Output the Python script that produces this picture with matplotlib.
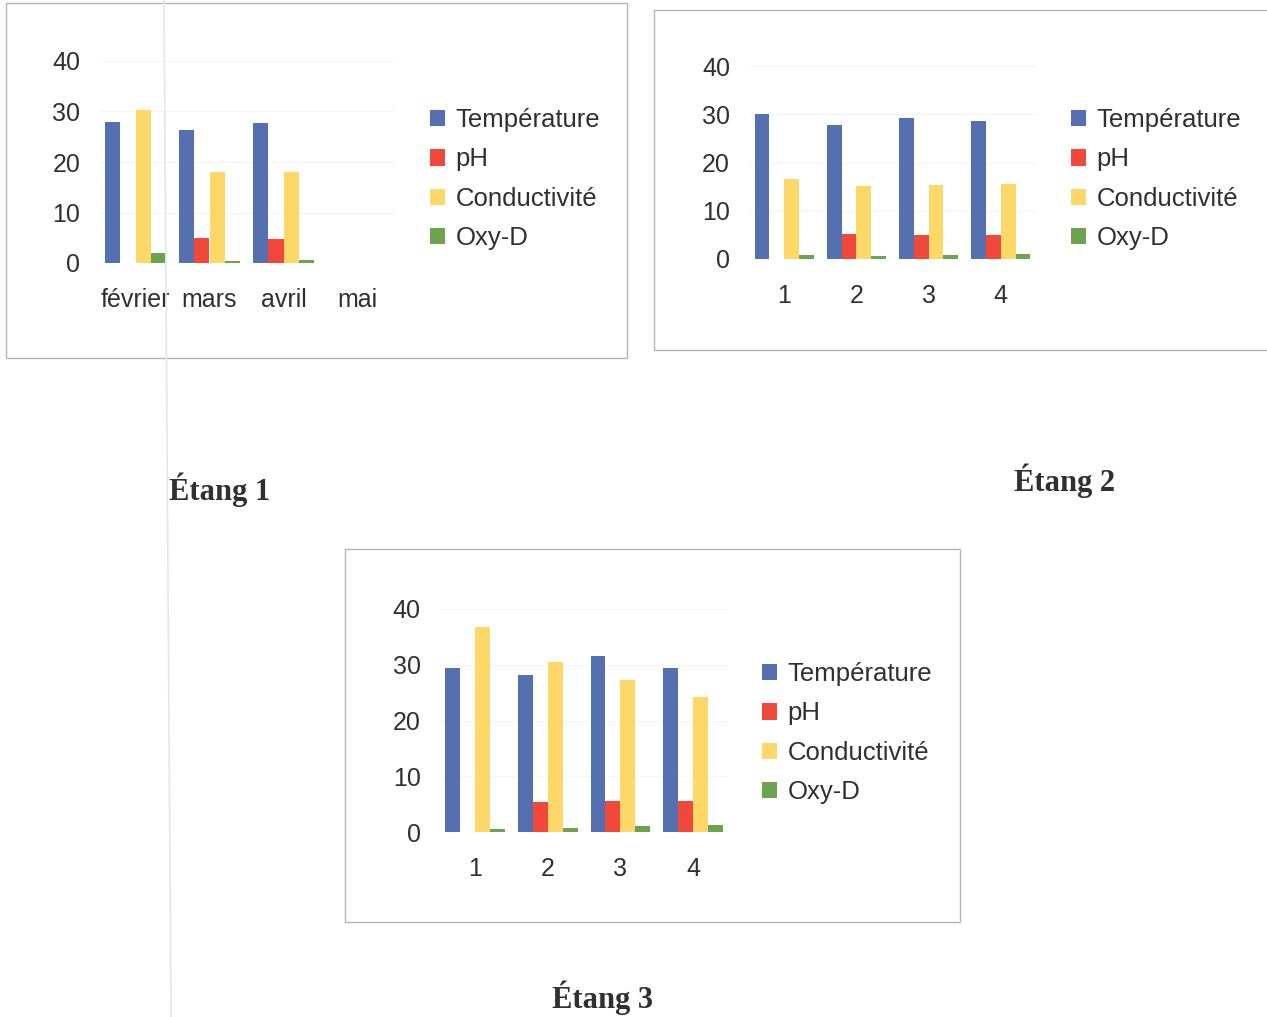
import numpy as np
import matplotlib
matplotlib.use('Agg')
import matplotlib.pyplot as plt
from matplotlib.patches import Rectangle
from matplotlib.lines import Line2D

# Measurements per pond (nan = no value recorded)
series = ['Température', 'pH', 'Conductivité', 'Oxy-D']
colors = ['#5470B0', '#F2483C', '#FDD868', '#6BA34E']

months_1 = ['février', 'mars', 'avril', 'mai']
temp_1 = [28.0, 26.3, 27.8, np.nan]
ph_1 = [np.nan, 5.0, 4.8, np.nan]
cond_1 = [30.3, 18.1, 18.0, np.nan]
oxy_1 = [1.9, 0.4, 0.6, np.nan]

samples_2 = ['1', '2', '3', '4']
temp_2 = [30.1, 27.7, 29.3, 28.5]
ph_2 = [np.nan, 5.1, 4.9, 5.0]
cond_2 = [16.5, 15.2, 15.3, 15.5]
oxy_2 = [0.8, 0.7, 0.8, 1.0]

samples_3 = ['1', '2', '3', '4']
temp_3 = [29.5, 28.1, 31.5, 29.4]
ph_3 = [np.nan, 5.3, 5.5, 5.5]
cond_3 = [36.8, 30.5, 27.3, 24.2]
oxy_3 = [0.5, 0.8, 1.0, 1.2]

W, H = 1267, 1017
fig = plt.figure(figsize=(W / 100, H / 100), dpi=100)
fig.patch.set_facecolor('white')

TXT = '#303030'
plt.rcParams['font.family'] = ['Liberation Sans', 'DejaVu Sans']


def fx(x):
    return x / W


def fy(y):
    return 1 - y / H


def frame(x0, y0, x1, y1):
    fig.patches.append(Rectangle((fx(x0), fy(y1)), fx(x1 - x0), (y1 - y0) / H,
                                 transform=fig.transFigure, fill=False,
                                 edgecolor='#b5b5b5', lw=1.0))


def chart(ax_box, labels, values, legend_xy):
    left, top, right, bottom = ax_box
    ax = fig.add_axes([fx(left), fy(bottom), fx(right - left), (bottom - top) / H])
    x = np.arange(len(labels))
    width = 0.205
    offsets = [-1.5, -0.5, 0.5, 1.5]
    for vals, col, name, off in zip(values, colors, series, offsets):
        ax.bar(x + off * width, vals, width, color=col, label=name, linewidth=0)
    ax.set_xlim(-0.5, len(labels) - 0.5)
    ax.set_ylim(0, 40)
    ax.set_yticks([0, 10, 20, 30, 40])
    ax.set_xticks(x)
    ax.set_xticklabels(labels)
    ax.tick_params(axis='both', length=0, labelsize=18, colors=TXT)
    ax.tick_params(axis='x', pad=18)
    ax.tick_params(axis='y', pad=13)
    ax.yaxis.grid(True, color='#f5f5f5', lw=0.8)
    ax.set_axisbelow(True)
    for s in ax.spines.values():
        s.set_visible(False)
    ax.patch.set_alpha(0)
    leg = ax.legend(loc='upper left', bbox_to_anchor=(fx(legend_xy[0]), fy(legend_xy[1])),
                    bbox_transform=fig.transFigure, frameon=False, fontsize=18.5,
                    handlelength=0.6, handleheight=0.6, handletextpad=0.4,
                    labelspacing=0.6, borderpad=0, borderaxespad=0)
    for t in leg.get_texts():
        t.set_color(TXT)
    return ax


# Étang 1
frame(6, 3, 627, 358)
chart((98.5, 61, 394.5, 263), months_1, [temp_1, ph_1, cond_1, oxy_1], (430, 108))

# Étang 2
frame(654, 10, 1290, 350)
chart((748, 66, 1037, 259), samples_2, [temp_2, ph_2, cond_2, oxy_2], (1071, 108))

# Étang 3
frame(345, 549, 960, 922)
chart((438.7, 609, 729.4, 832), samples_3, [temp_3, ph_3, cond_3, oxy_3], (762, 662))

# Titles under each chart
title_kw = dict(family=['Liberation Serif', 'DejaVu Serif'], fontweight='bold',
                fontsize=22, color=TXT, ha='center', va='center')
fig.text(fx(220), fy(490), 'Étang 1', **title_kw)
fig.text(fx(1065), fy(481), 'Étang 2', **title_kw)
fig.text(fx(603), fy(998), 'Étang 3', **title_kw)

# faint fold line of the sheet
fig.lines.append(Line2D([fx(164), fx(171)], [1, 0], transform=fig.transFigure,
                        color='#e2e6ee', lw=1.2))

fig.savefig('out.png', dpi=100, facecolor='white')
